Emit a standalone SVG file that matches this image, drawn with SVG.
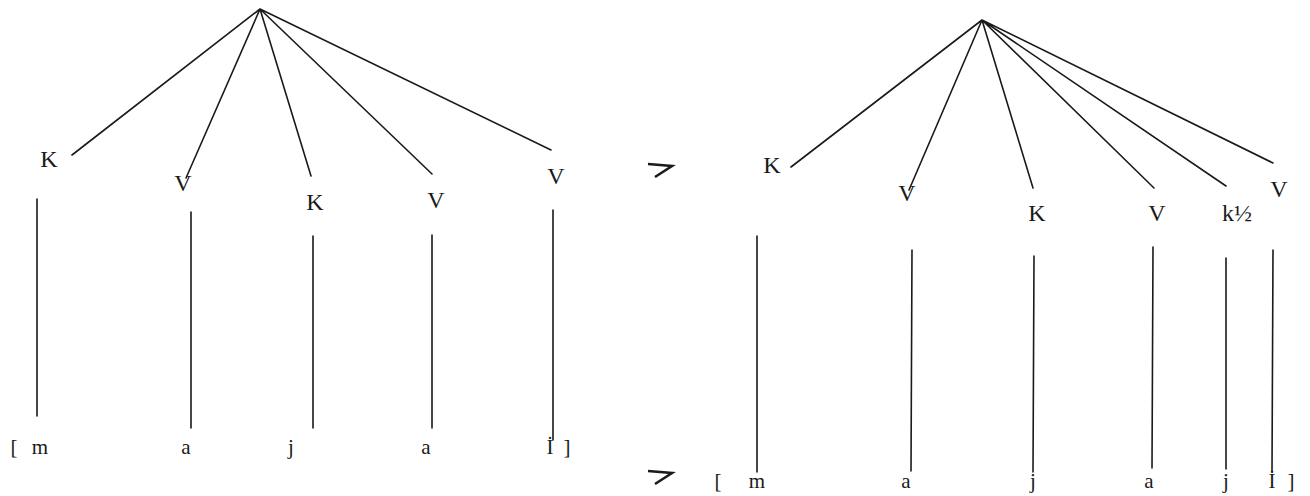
<svg xmlns="http://www.w3.org/2000/svg" width="1310" height="496" viewBox="0 0 1310 496">
<style>
.ln{stroke:#1a1a1a;stroke-width:1.6;fill:none;stroke-linecap:round}
.lb{font-family:"Liberation Serif",serif;font-size:24px;fill:#1a1a1a;text-anchor:middle}
.bt{font-family:"Liberation Serif",serif;font-size:21px;fill:#1a1a1a;text-anchor:middle}
.ar{stroke:#1a1a1a;stroke-width:2.6;fill:none;stroke-linejoin:miter}
</style>
<rect width="1310" height="496" fill="#fff"/>
<g id="connectors">
<path class="ln" d="M260,9 L72,155 M260,9 L186,178 M260,9 L311,176 M260,9 L432,174 M260,9 L551,150"/>
<path class="ln" d="M37,199 L37,416 M191,212 L191,428 M313,236 L313,428 M432,235 L432,428 M553,210 L553,440"/>
<path class="ln" d="M982,20 L791,167 M982,20 L909,190 M982,20 L1033,188 M982,20 L1154,188 M982,20 L1226,186 M982,20 L1273,163"/>
<path class="ln" d="M757,236 L757,472 M912,250 L911,471 M1034,256 L1033,472 M1153,247 L1152,468 M1226,258 L1226,469 M1273,250 L1272,471"/>
</g>
<g id="left-tree">
<text class="lb" x="49" y="167">K</text>
<text class="lb" x="183" y="191">V</text>
<text class="lb" x="315" y="210">K</text>
<text class="lb" x="436" y="208">V</text>
<text class="lb" x="556" y="184">V</text>
</g>
<g id="left-row">
<text class="bt" x="14" y="454">[</text>
<text class="bt" x="40" y="454">m</text>
<text class="bt" x="186" y="454">a</text>
<text class="bt" x="291" y="454">j</text>
<text class="bt" x="426" y="454">a</text>
<text class="bt" x="550" y="454">İ</text>
<text class="bt" x="567" y="454">]</text>
</g>
<g id="arrows">
<path class="ar" d="M648,164 L672,166 L655,177"/>
<path class="ar" d="M648,471 L672,473 L655,484"/>
</g>
<g id="right-tree">
<text class="lb" x="772" y="173">K</text>
<text class="lb" x="907" y="201">V</text>
<text class="lb" x="1037" y="221">K</text>
<text class="lb" x="1157" y="221">V</text>
<text class="lb" x="1237" y="221">k½</text>
<text class="lb" x="1279" y="197">V</text>
</g>
<g id="right-row">
<text class="bt" x="718" y="488">[</text>
<text class="bt" x="757" y="488">m</text>
<text class="bt" x="906" y="488">a</text>
<text class="bt" x="1033" y="488">j</text>
<text class="bt" x="1149" y="488">a</text>
<text class="bt" x="1226" y="488">j</text>
<text class="bt" x="1272" y="488">İ</text>
<text class="bt" x="1291" y="488">]</text>
</g>
</svg>
